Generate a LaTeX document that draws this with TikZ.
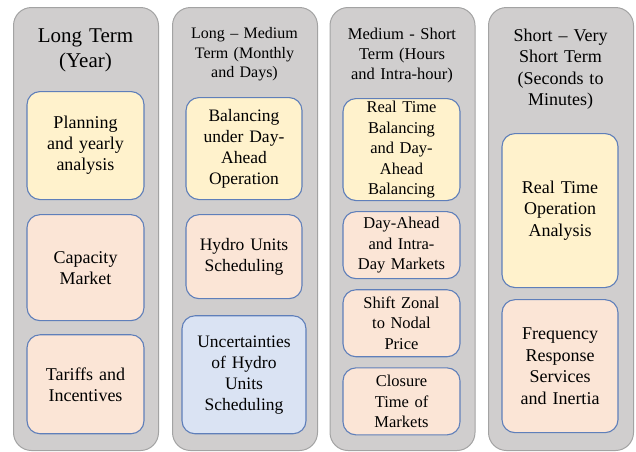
\documentclass[tikz,border=0pt]{standalone}
\usepackage{fontspec}
\setmainfont{Liberation Serif}
\usepackage{xcolor}
\usetikzlibrary{positioning}

\definecolor{colfill}{HTML}{D0CECE}
\definecolor{colline}{HTML}{A3A3A3}
\definecolor{boxline}{HTML}{5F7FBA}
\definecolor{yellowbox}{HTML}{FFF2CC}
\definecolor{peachbox}{HTML}{FBE5D6}
\definecolor{bluebox}{HTML}{DAE3F3}

\begin{document}
\begin{tikzpicture}[
    x=1pt, y=-1pt,
    node distance=14pt,
    column/.style={rectangle, draw=colline, fill=colfill, line width=1pt, rounded corners=18pt, minimum width=145pt, minimum height=443pt, anchor=north west},
    title/.style={anchor=north, inner sep=0pt, text width=140pt, align=center},
    box/.style={rectangle, draw=boxline, line width=1.1pt, rounded corners=13pt, inner sep=0pt, text width=117pt, align=center, minimum height=#1},
    plan/.style={box=#1, fill=yellowbox},
    market/.style={box=#1, fill=peachbox},
    risk/.style={box=#1, fill=bluebox}
]
    \useasboundingbox (0,0) rectangle (636,451);

    % the four time scales
    \node[column] (long) at (13,7) {};
    \node[column] (longmed) at (172,7) {};
    \node[column] (medshort) at (329.5,7) {};
    \node[column] (short) at (488,7) {};

    \node[title, font=\fontsize{21}{25}\selectfont] at (85.5,29) {Long Term\\(Year)};
    \node[title, font=\fontsize{16}{19.5}\selectfont] at (244.5,27.5) {Long -- Medium\\Term (Monthly\\and Days)};
    \node[title, font=\fontsize{16.5}{20}\selectfont] at (402,27.5) {Medium - Short\\Term (Hours\\and Intra-hour)};
    \node[title, font=\fontsize{18}{21.5}\selectfont] at (560.5,28.5) {Short -- Very\\Short Term\\(Seconds to\\Minutes)};

    % long term
    \begin{scope}[font=\fontsize{18}{21}\selectfont]
    \node[plan=108pt, anchor=north] (yearly) at (85.5,91) {Planning\\and yearly\\analysis};
    \node[market=106pt, below=14pt of yearly] (capacity) {Capacity\\Market};
    \node[market=99pt, below=13pt of capacity] (tariffs) {Tariffs and\\Incentives};
    \end{scope}

    % long - medium term
    \begin{scope}[font=\fontsize{17.5}{21}\selectfont]
    \node[plan=102pt, anchor=north, text width=116pt] (dayahead) at (244,97) {Balancing\\under Day-\\Ahead\\Operation};
    \node[market=84pt, below=14pt of dayahead, text width=116pt] (hydro) {Hydro Units\\Scheduling};
    \node[risk=118pt, below=16pt of hydro, text width=124pt] (uncert) {Uncertainties\\of Hydro\\Units\\Scheduling};
    \end{scope}

    % medium - short term
    \begin{scope}[font=\fontsize{16.5}{20.5}\selectfont]
    \node[plan=102pt, anchor=north] (realbal) at (401.5,98) {Real Time\\Balancing\\and Day-\\Ahead\\Balancing};
    \node[market=67pt, below=10pt of realbal] (intraday) {Day-Ahead\\and Intra-\\Day Markets};
    \node[market=67pt, below=10pt of intraday] (nodal) {Shift Zonal\\to Nodal\\Price};
    \node[market=67pt, below=10pt of nodal] (closure) {Closure\\Time of\\Markets};
    \end{scope}

    % short - very short term
    \begin{scope}[font=\fontsize{18}{21.5}\selectfont]
    \node[plan=154pt, anchor=north, text width=116pt] (operation) at (560,133) {Real Time\\Operation\\Analysis};
    \node[market=133pt, below=11pt of operation, text width=116pt] (inertia) {Frequency\\Response\\Services\\and Inertia};
    \end{scope}
\end{tikzpicture}
\end{document}
